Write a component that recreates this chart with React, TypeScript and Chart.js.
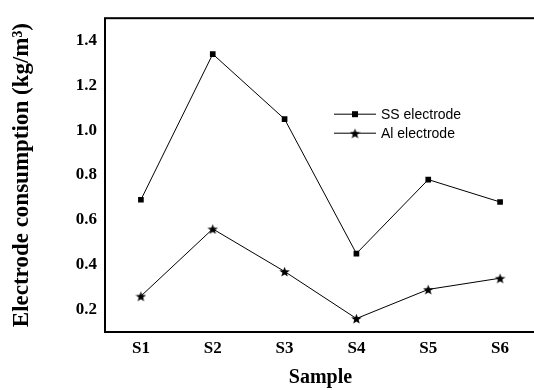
import { useEffect, useRef } from "react";
import { Chart, registerables } from "chart.js";

Chart.register(...registerables);

// Electrode consumption per sample (kg/m³)
const samples = ["S1", "S2", "S3", "S4", "S5", "S6"];
const ssConsumption = [0.69, 1.34, 1.05, 0.45, 0.78, 0.68];
const alConsumption = [0.26, 0.56, 0.37, 0.16, 0.29, 0.34];
const yTicks = [0.2, 0.4, 0.6, 0.8, 1.0, 1.2, 1.4];
const seriesNames = ["SS electrode", "Al electrode"];

const SERIF = "'Liberation Serif', 'Times New Roman', serif";
const SANS = "'Liberation Sans', Arial, sans-serif";

// Filled five-pointed star used as a point marker
function makeStar(size: number): HTMLCanvasElement {
  const c = document.createElement("canvas");
  c.width = size;
  c.height = size;
  const ctx = c.getContext("2d")!;
  const cx = size / 2;
  const cy = size / 2 + size * 0.06;
  const outer = size / 2;
  const inner = outer * 0.42;
  ctx.beginPath();
  for (let i = 0; i < 10; i++) {
    const r = i % 2 === 0 ? outer : inner;
    const a = -Math.PI / 2 + (i * Math.PI) / 5;
    ctx.lineTo(cx + r * Math.cos(a), cy + r * Math.sin(a));
  }
  ctx.closePath();
  ctx.fillStyle = "#000";
  ctx.fill();
  return c;
}

export default function App() {
  const canvasRef = useRef<HTMLCanvasElement>(null);

  useEffect(() => {
    const canvas = canvasRef.current;
    if (!canvas) return;
    const star = makeStar(11);

    // Frame around the plotting area
    const framePlugin = {
      id: "frame",
      afterDraw(chart: any) {
        const { ctx, chartArea } = chart;
        ctx.save();
        ctx.strokeStyle = "#000";
        ctx.lineWidth = 2;
        ctx.strokeRect(
          chartArea.left,
          chartArea.top,
          chartArea.right - chartArea.left,
          chartArea.bottom - chartArea.top
        );
        ctx.restore();
      },
    };

    // Line-and-marker legend inside the plot
    const legendPlugin = {
      id: "innerLegend",
      afterDraw(chart: any) {
        const { ctx, chartArea } = chart;
        const x0 = chartArea.left + 229;
        ctx.save();
        chart.data.datasets.forEach((ds: any, i: number) => {
          const y = chartArea.top + 96 + i * 19;
          ctx.strokeStyle = "#000";
          ctx.lineWidth = 1;
          ctx.beginPath();
          ctx.moveTo(x0, y);
          ctx.lineTo(x0 + 42, y);
          ctx.stroke();
          if (i === 0) {
            ctx.fillStyle = "#000";
            ctx.fillRect(x0 + 21 - 3, y - 3, 6, 6);
          } else {
            ctx.drawImage(star, x0 + 21 - star.width / 2, y - star.height / 2);
          }
          ctx.fillStyle = "#000";
          ctx.font = `14px ${SANS}`;
          ctx.textBaseline = "middle";
          ctx.textAlign = "left";
          ctx.fillText(ds.label, x0 + 47, y + 1);
        });
        ctx.restore();
      },
    };

    const chart = new Chart(canvas, {
      type: "line",
      data: {
        labels: samples,
        datasets: [
          {
            label: seriesNames[0],
            data: ssConsumption,
            borderColor: "#000",
            backgroundColor: "#000",
            borderWidth: 1,
            pointStyle: "rect",
            pointRadius: 4,
            pointBorderWidth: 0,
            tension: 0,
          },
          {
            label: seriesNames[1],
            data: alConsumption,
            borderColor: "#000",
            backgroundColor: "#000",
            borderWidth: 1,
            pointStyle: star,
            pointRadius: 5,
            tension: 0,
          },
        ],
      },
      options: {
        responsive: false,
        animation: false,
        devicePixelRatio: 1,
        layout: { padding: { top: 14, left: 0, right: 4, bottom: 0 } },
        plugins: {
          legend: { display: false },
          tooltip: { enabled: false },
        },
        scales: {
          x: {
            type: "category",
            offset: true,
            grid: { display: false, drawTicks: false },
            border: { display: false },
            ticks: {
              color: "#000",
              padding: 6,
              font: { family: SERIF, size: 17, weight: "bold" },
            },
            title: {
              display: true,
              text: "Sample",
              color: "#000",
              padding: { top: 0, bottom: 0 },
              font: { family: SERIF, size: 20, weight: "bold" },
            },
            afterFit(scale: any) {
              scale.height = 58;
            },
          },
          y: {
            type: "linear",
            min: 0.1,
            max: 1.5,
            grid: { display: false, drawTicks: false },
            border: { display: false },
            afterBuildTicks(axis: any) {
              axis.ticks = yTicks.map((v) => ({ value: v }));
            },
            ticks: {
              color: "#000",
              padding: 8,
              font: { family: SERIF, size: 17, weight: "bold" },
              callback: (v: any) => Number(v).toFixed(1),
            },
            title: {
              display: true,
              text: "Electrode consumption (kg/m³)",
              color: "#000",
              padding: { top: 8, bottom: 0 },
              font: { family: SERIF, size: 23, weight: "bold" },
            },
            afterFit(scale: any) {
              scale.width = 105;
            },
          },
        },
      },
      plugins: [framePlugin, legendPlugin],
    });

    return () => chart.destroy();
  }, []);

  return (
    <div
      style={{
        position: "fixed",
        left: 0,
        top: 0,
        width: 534,
        height: 390,
        overflow: "hidden",
        background: "#fff",
      }}
    >
      <canvas ref={canvasRef} width={542} height={390} style={{ display: "block" }} />
    </div>
  );
}
